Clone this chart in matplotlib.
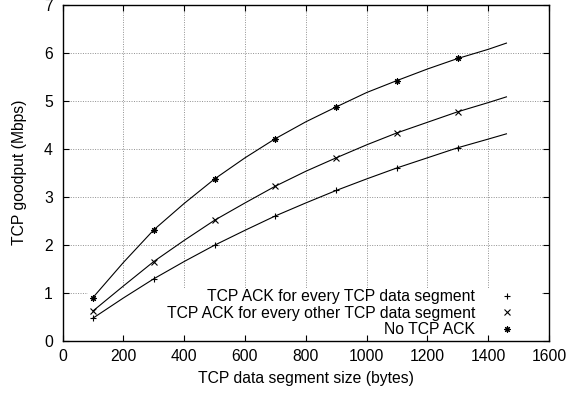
import matplotlib
matplotlib.use("Agg")
import matplotlib.pyplot as plt
from matplotlib.patches import Rectangle

plt.rcParams['font.family'] = ['Liberation Sans', 'DejaVu Sans']
FS = 11.3
plt.rcParams['font.size'] = FS

# Curve samples
curve_x = [100, 200, 300, 400, 500, 600, 700, 800, 900, 1000, 1100, 1200, 1300, 1400, 1460]
curve_every = [0.47, 0.89, 1.29, 1.65, 1.99, 2.30, 2.60, 2.87, 3.13, 3.37, 3.60, 3.81, 4.02, 4.20, 4.31]
curve_other = [0.62, 1.14, 1.65, 2.09, 2.51, 2.87, 3.22, 3.53, 3.81, 4.08, 4.33, 4.55, 4.77, 4.96, 5.08]
curve_noack = [0.90, 1.63, 2.31, 2.86, 3.37, 3.81, 4.21, 4.56, 4.87, 5.17, 5.42, 5.66, 5.88, 6.07, 6.20]

# Measured points
pts_x = [100, 300, 500, 700, 900, 1100, 1300]
pts_every = [0.47, 1.29, 1.99, 2.60, 3.13, 3.60, 4.02]
pts_other = [0.62, 1.65, 2.51, 3.22, 3.81, 4.33, 4.77]
pts_noack = [0.90, 2.31, 3.37, 4.21, 4.87, 5.42, 5.88]

labels = ["TCP ACK for every TCP data segment",
          "TCP ACK for every other TCP data segment",
          "No TCP ACK"]

xticks = [0, 200, 400, 600, 800, 1000, 1200, 1400, 1600]
yticks = [0, 1, 2, 3, 4, 5, 6, 7]

fig = plt.figure(figsize=(5.71, 3.96), dpi=100)
ax = fig.add_axes([62.6 / 571, 1 - 340.7 / 396, (549 - 62.6) / 571, (340.7 - 4.7) / 396])
ax.set_xlim(0, 1600)
ax.set_ylim(0, 7)

# grid drawn manually beneath the key box
for xv in xticks[1:-1]:
    ax.axvline(xv, color='#909090', lw=0.7, ls=(0, (1, 1.5)), zorder=0.5)
for yv in yticks[1:-1]:
    ax.axhline(yv, color='#909090', lw=0.7, ls=(0, (1, 1.5)), zorder=0.5)

# opaque key background
ax.add_patch(Rectangle((84, 0), 1573 - 84, 1.10, facecolor='white', edgecolor='none', zorder=1))

for cy in (curve_every, curve_other, curve_noack):
    ax.plot(curve_x, cy, color='black', lw=0.8, zorder=2)

markers = ['+', 'x', (8, 2, 0)]
sizes = [5, 4.2, 4.6]
for py, mk, ms, lab in zip((pts_every, pts_other, pts_noack), markers, sizes, labels):
    ax.plot(pts_x, py, ls='none', marker=mk, ms=ms, mew=0.8, color='black', label=lab, zorder=3)

ax.set_xticks(xticks)
ax.set_yticks(yticks)
ax.tick_params(direction='in', length=4, width=0.8, top=True, right=True, labelsize=FS)
ax.tick_params(axis='x', pad=6)
ax.tick_params(axis='y', pad=7)
for s in ax.spines.values():
    s.set_linewidth(1.0)

ax.set_xlabel("TCP data segment size (bytes)", fontsize=FS, labelpad=5)
ax.set_ylabel("TCP goodput (Mbps)", fontsize=FS, labelpad=12)

leg = ax.legend(loc='lower right', bbox_to_anchor=(513 / 571, (396 - 337) / 396),
                bbox_transform=fig.transFigure, frameon=False, markerfirst=False,
                handlelength=0.75, handletextpad=1.65, borderpad=0, borderaxespad=0,
                labelspacing=0.08, fontsize=FS)

fig.savefig("out.png", dpi=100)
